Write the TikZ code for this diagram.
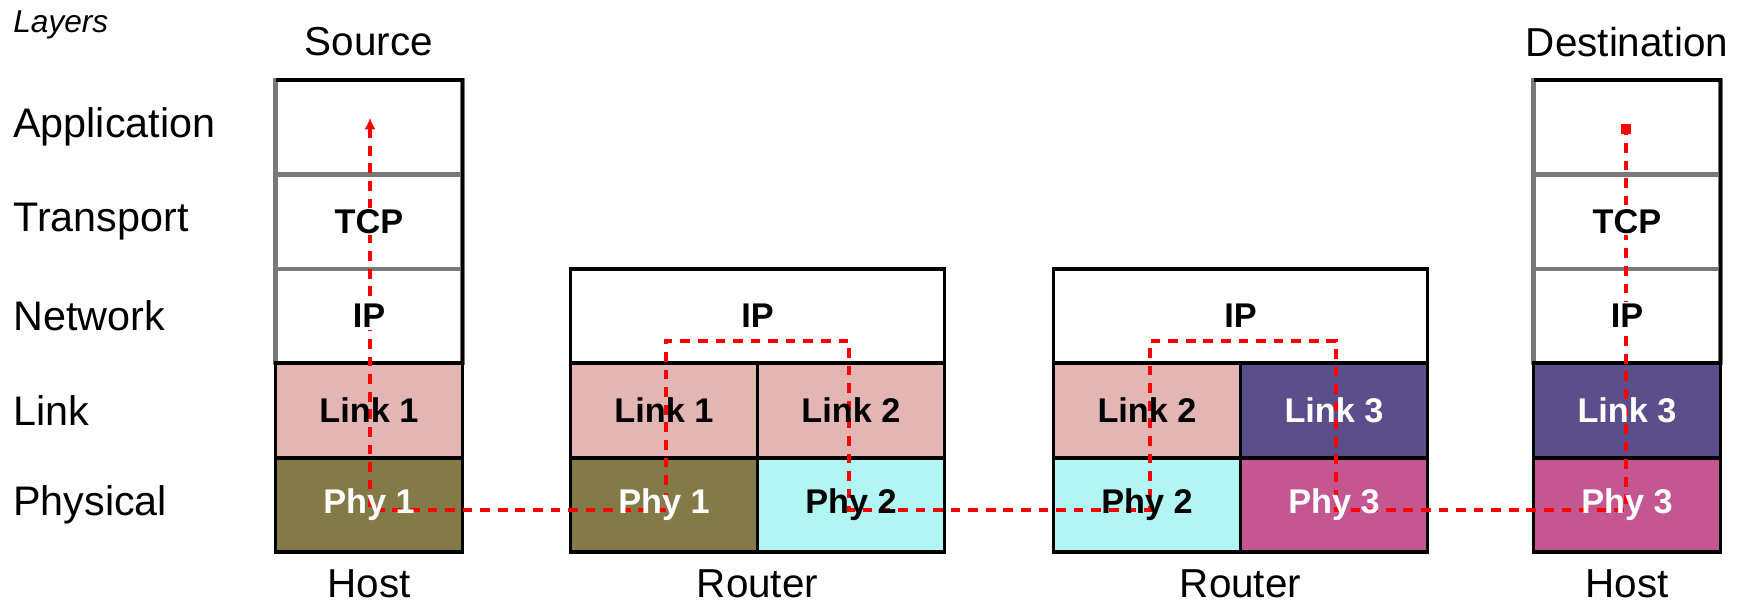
\documentclass[tikz,border=0pt]{standalone}
\usepackage{fontspec}
\setmainfont{Liberation Sans}
\usetikzlibrary{arrows.meta}

\definecolor{linkpink}{RGB}{227,181,181}
\definecolor{phyolive}{RGB}{132,122,72}
\definecolor{phycyan}{RGB}{177,246,243}
\definecolor{linkpurple}{RGB}{90,79,138}
\definecolor{phymagenta}{RGB}{196,87,146}
\definecolor{softgray}{RGB}{120,120,120}

\tikzset{
  cell/.style={draw=black, line width=2.2pt, outer sep=0pt, inner sep=0pt,
    minimum height=1.888cm, minimum width=3.74cm},
  widecell/.style={cell, minimum width=7.48cm},
  upper/.style={cell, draw=softgray, line width=2.6pt},
  edge/.style={draw=black, line width=2.2pt},
  celltext/.style={font=\fontsize{19.5}{23}\selectfont\bfseries, inner sep=1pt},
  whitetext/.style={celltext, text=white},
  layertext/.style={anchor=west, inner sep=0pt, font=\fontsize{23.5}{27}\selectfont},
  hosttext/.style={inner sep=0pt, font=\fontsize{23}{27}\selectfont},
  route/.style={draw=red, line width=2pt, dash pattern=on 5.5pt off 4.5pt},
}

\begin{document}
\begin{tikzpicture}
\useasboundingbox (0,0) rectangle (34.86,12.08);

% layer names
\node[inner sep=0pt, anchor=west, font=\fontsize{18}{20}\selectfont\itshape] (layers) at (0.26,11.58) {Layers};
\foreach \y/\l in {9.536/Application, 7.648/Transport, 5.76/Network, 3.872/Link, 1.984/Physical}
{\node[layertext] (layer-\l) at (0.26,\y) {\l};}

% upper cells of the two hosts
\foreach \n/\x in {s/7.38, d/32.54}
{
\node[upper] (\n-app) at (\x,9.536) {};
\node[upper] (\n-tcp) at (\x,7.648) {};
\node[upper] (\n-ip) at (\x,5.76) {};
\draw[edge] (\n-ip.south east) -- (\n-app.north east) -- (\n-app.north west);
}

% IP of the routers
\node[widecell] (r1-ip) at (15.15,5.76) {};
\node[widecell] (r2-ip) at (24.81,5.76) {};

% link and physical cells
\foreach \n/\x/\c in {s/7.38/linkpink, r1a/13.28/linkpink, r1b/17.02/linkpink,
  r2a/22.94/linkpink, r2b/26.68/linkpurple, d/32.54/linkpurple}
{\node[cell, fill=\c] (\n-link) at (\x,3.872) {};}
\foreach \n/\x/\c in {s/7.38/phyolive, r1a/13.28/phyolive, r1b/17.02/phycyan,
  r2a/22.94/phycyan, r2b/26.68/phymagenta, d/32.54/phymagenta}
{\node[cell, fill=\c] (\n-phy) at (\x,1.984) {};}

% path of the data
\coordinate (s-top) at (7.40,9.72);
\coordinate (s-low) at (7.40,1.88);
\coordinate (r1a-low) at (13.32,1.88);
\coordinate (r1a-up) at (13.32,5.26);
\coordinate (r1b-up) at (16.98,5.26);
\coordinate (r1b-low) at (16.98,1.88);
\coordinate (r2a-low) at (23.00,1.88);
\coordinate (r2a-up) at (23.00,5.26);
\coordinate (r2b-up) at (26.72,5.26);
\coordinate (r2b-low) at (26.72,1.88);
\coordinate (d-low) at (32.52,1.88);
\coordinate (d-top) at (32.52,9.60);
\draw[route, {Latex[length=6.5pt,width=6.5pt]}-{Square[length=5.5pt,width=5.5pt]}]
  (s-top) -- (s-low) -- (r1a-low) -- (r1a-up) -- (r1b-up) -- (r1b-low)
  -- (r2a-low) -- (r2a-up) -- (r2b-up) -- (r2b-low) -- (d-low) -- (d-top);

% cell texts
\node[celltext, fill=white] (s-tcp-t) at (s-tcp) {TCP};
\node[celltext, fill=white] (d-tcp-t) at (d-tcp) {TCP};
\node[celltext, fill=white] (s-ip-t) at (s-ip) {IP};
\node[celltext, fill=white] (d-ip-t) at (d-ip) {IP};
\node[celltext] (r1-ip-t) at (r1-ip) {IP};
\node[celltext] (r2-ip-t) at (r2-ip) {IP};
\node[celltext] (s-link-t) at (s-link) {Link 1};
\node[celltext] (r1a-link-t) at (r1a-link) {Link 1};
\node[celltext] (r1b-link-t) at (r1b-link) {Link 2};
\node[celltext] (r2a-link-t) at (r2a-link) {Link 2};
\node[whitetext] (r2b-link-t) at (r2b-link) {Link 3};
\node[whitetext] (d-link-t) at (d-link) {Link 3};
\node[whitetext] (s-phy-t) at (s-phy) {Phy 1};
\node[whitetext] (r1a-phy-t) at (r1a-phy) {Phy 1};
\node[celltext] (r1b-phy-t) at (r1b-phy) {Phy 2};
\node[celltext] (r2a-phy-t) at (r2a-phy) {Phy 2};
\node[whitetext] (r2b-phy-t) at (r2b-phy) {Phy 3};
\node[whitetext] (d-phy-t) at (d-phy) {Phy 3};

% names above and below
\node[hosttext] (source) at (7.38,11.24) {Source};
\node[hosttext] (destination) at (32.54,11.24) {Destination};
\node[hosttext] (src-host) at (7.38,0.40) {Host};
\node[hosttext] (router-a) at (15.15,0.40) {Router};
\node[hosttext] (router-b) at (24.81,0.40) {Router};
\node[hosttext] (dst-host) at (32.54,0.40) {Host};
\end{tikzpicture}
\end{document}
